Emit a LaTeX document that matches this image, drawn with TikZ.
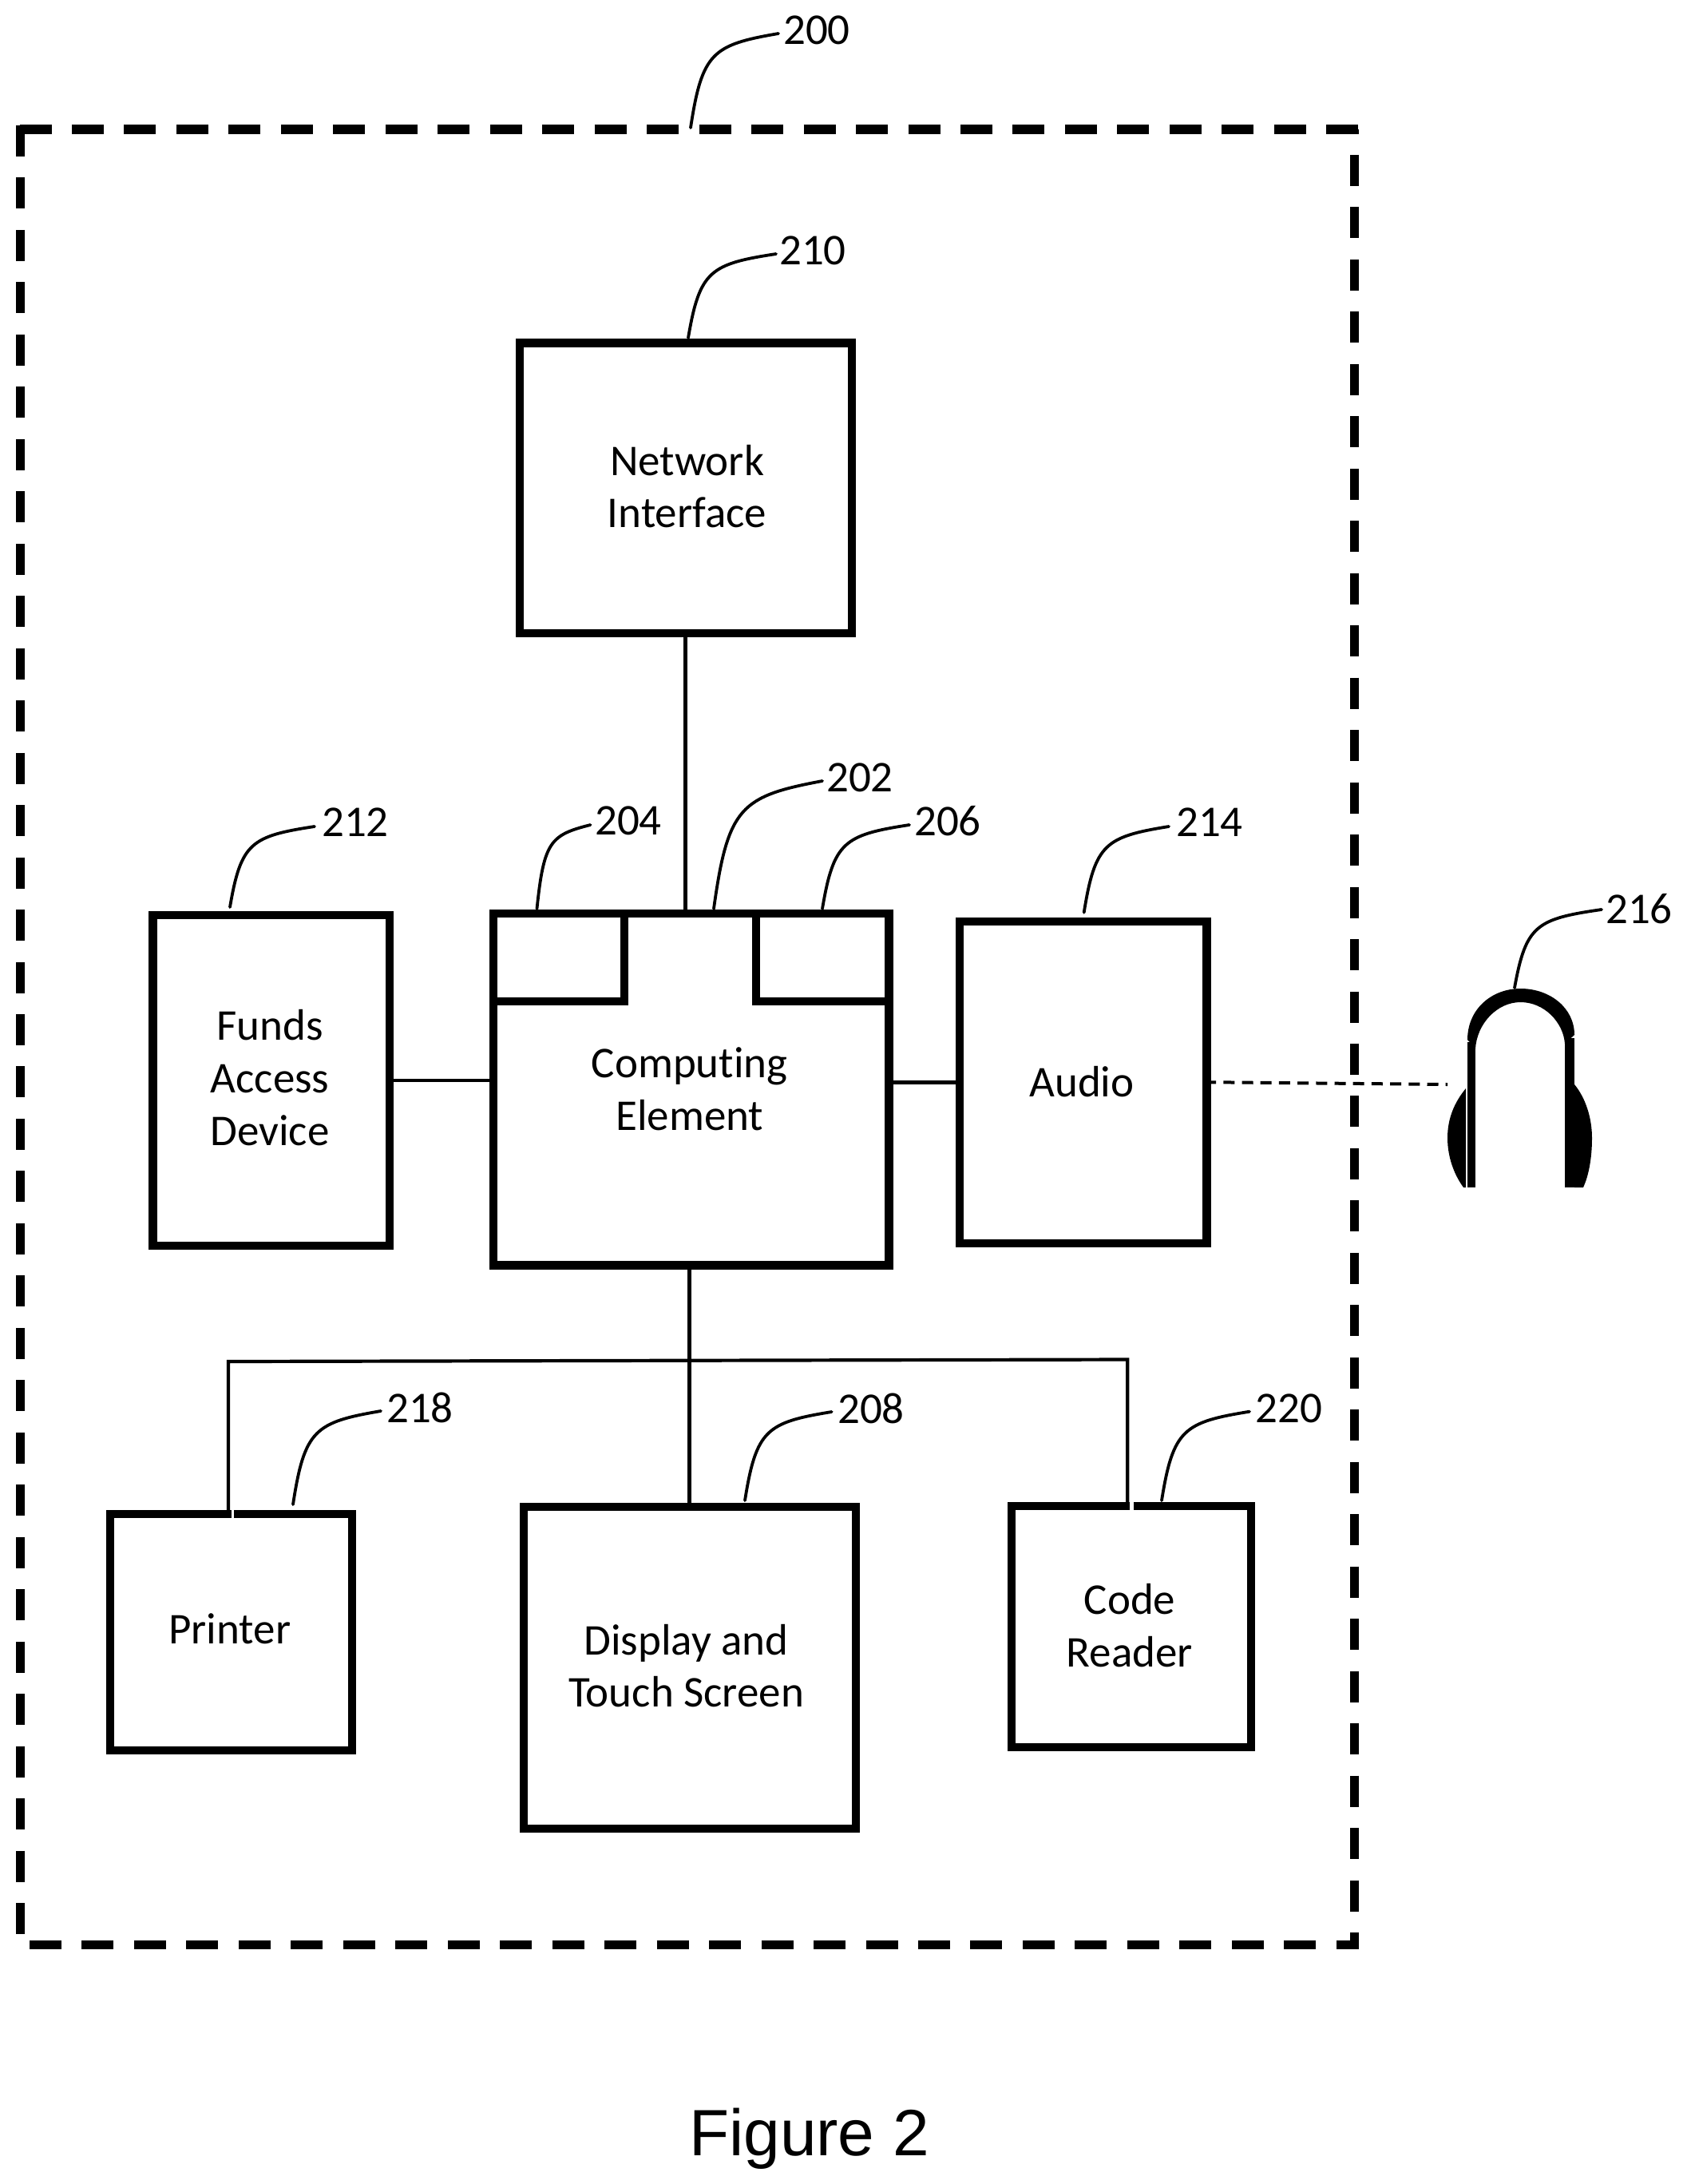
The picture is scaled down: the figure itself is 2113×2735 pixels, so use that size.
\documentclass[tikz,border=0pt]{standalone}
\usepackage{fontspec}
\setmainfont[Ligatures=NoCommon]{Carlito}
\newfontfamily\capfont{Liberation Sans}
\usetikzlibrary{calc}
% #1 x shift of the text block in px, #2 raise of its first baseline above the node centre
\newcommand{\boxtext}[3]{\raisebox{#2}[0pt][0pt]{\makebox[0pt]{\hspace*{#1}\begin{tabular}[t]{@{}c@{}}#3\end{tabular}}}}
\newcommand{\leadline}[5]{%
  \coordinate (#1-a) at (#2,#3);
  \coordinate (#1-b) at (#4,#5);
  \pgfmathsetmacro{\cax}{0.13*(#4-#2)}\pgfmathsetmacro{\cay}{-0.8*(#3-#5)}
  \pgfmathsetmacro{\cbx}{-0.75*(#4-#2)}\pgfmathsetmacro{\cby}{0.12*(#3-#5)}
  \draw[leaderline] (#1-a) .. controls +(\cax,\cay) and +(\cbx,\cby) .. (#1-b);
}
\tikzset{
  x=0.5pt,y=-0.5pt,
  boxnode/.style={draw=black,line width=5.2pt,fill=none,outer sep=0pt,inner sep=0pt,font=\fontsize{27.5}{32.85}\selectfont},
  wire/.style={draw=black,line width=2.3pt},
  sidewire/.style={draw=black,line width=2.4pt},
  buswire/.style={draw=black,line width=2.1pt},
  leaderline/.style={draw=black,line width=1.9pt,line cap=round},
  refnum/.style={inner sep=0pt,font=\fontsize{27.5}{32.85}\selectfont},
  framehoriz/.style={draw=black,line width=5.8pt,dash pattern=on 20pt off 12.735pt},
  framevert/.style={draw=black,line width=5.3pt,dash pattern=on 19.5pt off 13.235pt},
  linkdash/.style={draw=black,line width=2pt,dash pattern=on 7pt off 4.6pt,dash phase=1.15pt},
  phone/.style={fill=black,draw=none},
}
\begin{document}
\begin{tikzpicture}
\useasboundingbox (0,0) rectangle (2113,2735);
% outer frame
\coordinate (ftl) at (24.5,162);
\coordinate (ftr) at (1701,162);
\coordinate (flt) at (25.5,157);
\coordinate (flb) at (25.5,2430);
\coordinate (frt) at (1696.5,162);
\coordinate (frb) at (1696.5,2441);
\coordinate (fbl) at (37,2435.5);
\coordinate (fbr) at (1701,2435.5);
\draw[framehoriz] (ftl) -- (ftr);
\draw[framevert] (flt) -- (flb);
\draw[framevert,dash phase=16.75pt] (frt) -- (frb);
\draw[framehoriz] (fbl) -- (fbr);
% boxes
\node[boxnode,minimum width=208pt,minimum height=181.85pt] (net) at (858.7,611.2) {\boxtext{1.8pt}{8.1pt}{Network\\Interface}};
\node[boxnode,minimum width=247.65pt,minimum height=220.25pt] (comp) at (865.7,1364.2) {\boxtext{-1.9pt}{7.2pt}{Computing\\Element}};
\node[boxnode,minimum width=82pt,minimum height=55pt] (mem) at (700,1199) {};
\node[boxnode,minimum width=83pt,minimum height=55pt] (proc) at (1030,1199) {};
\node[boxnode,minimum width=148.3pt,minimum height=207pt] (funds) at (339.7,1353) {\boxtext{-1.7pt}{25.15pt}{Funds\\Access\\Device}};
\node[boxnode,minimum width=154.7pt,minimum height=201.5pt] (audio) at (1356.7,1355.2) {\boxtext{-1.7pt}{-9.05pt}{Audio}};
\node[boxnode,minimum width=151.5pt,minimum height=148pt] (printer) at (289.5,2043.7) {\boxtext{-1.7pt}{-7.3pt}{Printer}};
\node[boxnode,minimum width=208pt,minimum height=201.5pt] (display) at (863.7,2088.5) {\boxtext{-4.2pt}{8.25pt}{Display and\\Touch Screen}};
\node[boxnode,minimum width=150pt,minimum height=151pt] (code) at (1417,2036.7) {\boxtext{-2pt}{7.5pt}{Code\\Reader}};
% small breaks in the box tops beside the entering wires
\fill[white] (289.5,1888) rectangle (293.3,1902);
\fill[white] (1415,1878) rectangle (1420,1892);
% connectors
\draw[wire] (net.south) -- (net.south |- comp.north);
\draw[sidewire] (funds.east) -- (comp.west |- funds.east);
\draw[sidewire] (audio.west) -- (comp.east |- audio.west);
\draw[wire] (display.north) -- (display.north |- comp.south);
\coordinate (busl) at (286,1705);
\coordinate (busr) at (1412.3,1702.5);
\draw[buswire] (busl |- printer.north) -- (busl) -- (busr) -- (busr |- code.north);
\coordinate (hp) at (1813,1358);
\draw[linkdash] (audio.east) -- (hp);
% headphones
\draw[draw=black,line width=5pt] (1843,1487) -- (1843,1305);
\draw[draw=black,line width=6pt] (1966,1487) -- (1966,1300);
\fill[phone] (1838,1302) .. controls (1838,1264) and (1868,1238) .. (1904.5,1238)
  .. controls (1941,1238) and (1972,1262) .. (1972,1296)
  -- (1960,1307) .. controls (1958,1280) and (1934,1255) .. (1904.5,1255)
  .. controls (1875,1255) and (1850,1282) .. (1848,1313) -- cycle;
\fill[phone] (1836,1363) .. controls (1822,1380) and (1813,1400) .. (1813,1425) .. controls (1813,1450) and (1822,1472) .. (1833,1487) -- (1836,1487) -- cycle;
\fill[phone] (1972,1358) .. controls (1986,1375) and (1994,1400) .. (1994,1425) .. controls (1994,1450) and (1990,1472) .. (1983,1487) -- (1972,1487) -- cycle;
% reference numbers
\node[refnum] (n200) at (1023,38) {200};
\node[refnum] (n210) at (1018,314) {210};
\node[refnum] (n204) at (787,1028) {204};
\node[refnum] (n202) at (1077,974) {202};
\node[refnum] (n206) at (1187,1028) {206};
\node[refnum] (n212) at (445,1030) {212};
\node[refnum] (n214) at (1515,1030) {214};
\node[refnum] (n216) at (2053,1138) {216};
\node[refnum] (n218) at (526,1762.5) {218};
\node[refnum] (n208) at (1091,1764) {208};
\node[refnum] (n220) at (1614.5,1763.7) {220};
% leaders
\leadline{l200}{865}{160}{975}{42}
\leadline{l210}{862}{423}{972}{318}
\leadline{l204}{672.5}{1138}{739.5}{1033}
\leadline{l202}{894}{1138}{1030}{978}
\leadline{l206}{1030}{1138}{1139}{1033}
\leadline{l212}{288}{1136}{394}{1035}
\leadline{l214}{1357.7}{1142.7}{1464}{1035}
\leadline{l216}{1897}{1237}{2006}{1139}
\leadline{l218}{367}{1884}{477}{1767}
\leadline{l208}{933}{1879}{1041.7}{1768}
\leadline{l220}{1455}{1879}{1565}{1767.7}
% caption
\node[inner sep=0pt,font=\capfont\fontsize{41}{48}\selectfont] (caption) at (1013.5,2678) {Figure 2};
\end{tikzpicture}
\end{document}
